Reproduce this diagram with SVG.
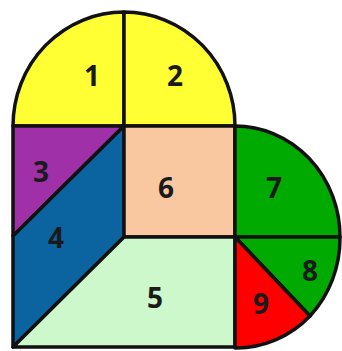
<svg xmlns="http://www.w3.org/2000/svg" width="342" height="351" viewBox="0 0 342 351">
<style>
.p{stroke:#111;stroke-width:3.5;stroke-linejoin:round}
.t{font-family:"Open Sans","Liberation Sans",sans-serif;font-weight:bold;font-size:28px;fill:#1a1a1a;text-anchor:middle}
</style>
<rect width="342" height="351" fill="#fff"/>
<g id="n1"><path class="p" fill="#FFFF33" d="M13,126 A111,114 0 0 1 124,12 L124,126 Z"/><text class="t" x="92" y="86">1</text></g>
<g id="n2"><path class="p" fill="#FFFF33" d="M124,12 A111,114 0 0 1 235,126 L124,126 Z"/><text class="t" x="175" y="86">2</text></g>
<g id="n3"><path class="p" fill="#A030A8" d="M13,126 L124,126 L13,236 Z"/><text class="t" x="41" y="182">3</text></g>
<g id="n4"><path class="p" fill="#0B64A0" d="M124,126 L124,237 L13,347 L13,236 Z"/><text class="t" x="56" y="248">4</text></g>
<g id="n6"><path class="p" fill="#FAC8A0" d="M124,126 L235,126 L235,237 L124,237 Z"/><text class="t" x="166" y="198">6</text></g>
<g id="n5"><path class="p" fill="#CCF8CC" d="M124,237 L235,237 L235,347 L13,347 Z"/><text class="t" x="155" y="308">5</text></g>
<g id="n7"><path class="p" fill="#00AA00" d="M235,126 A105,111 0 0 1 340,237 L235,237 Z"/><text class="t" x="274" y="198">7</text></g>
<g id="n8"><path class="p" fill="#00AA00" d="M235,237 L340,237 A105,111 0 0 1 310,316 Z"/><text class="t" x="310" y="281">8</text></g>
<g id="n9"><path class="p" fill="#FF0000" d="M235,237 L310,316 A105,111 0 0 1 235,348 Z"/><text class="t" x="261" y="314">9</text></g>
<g id="connectors"></g>
</svg>
